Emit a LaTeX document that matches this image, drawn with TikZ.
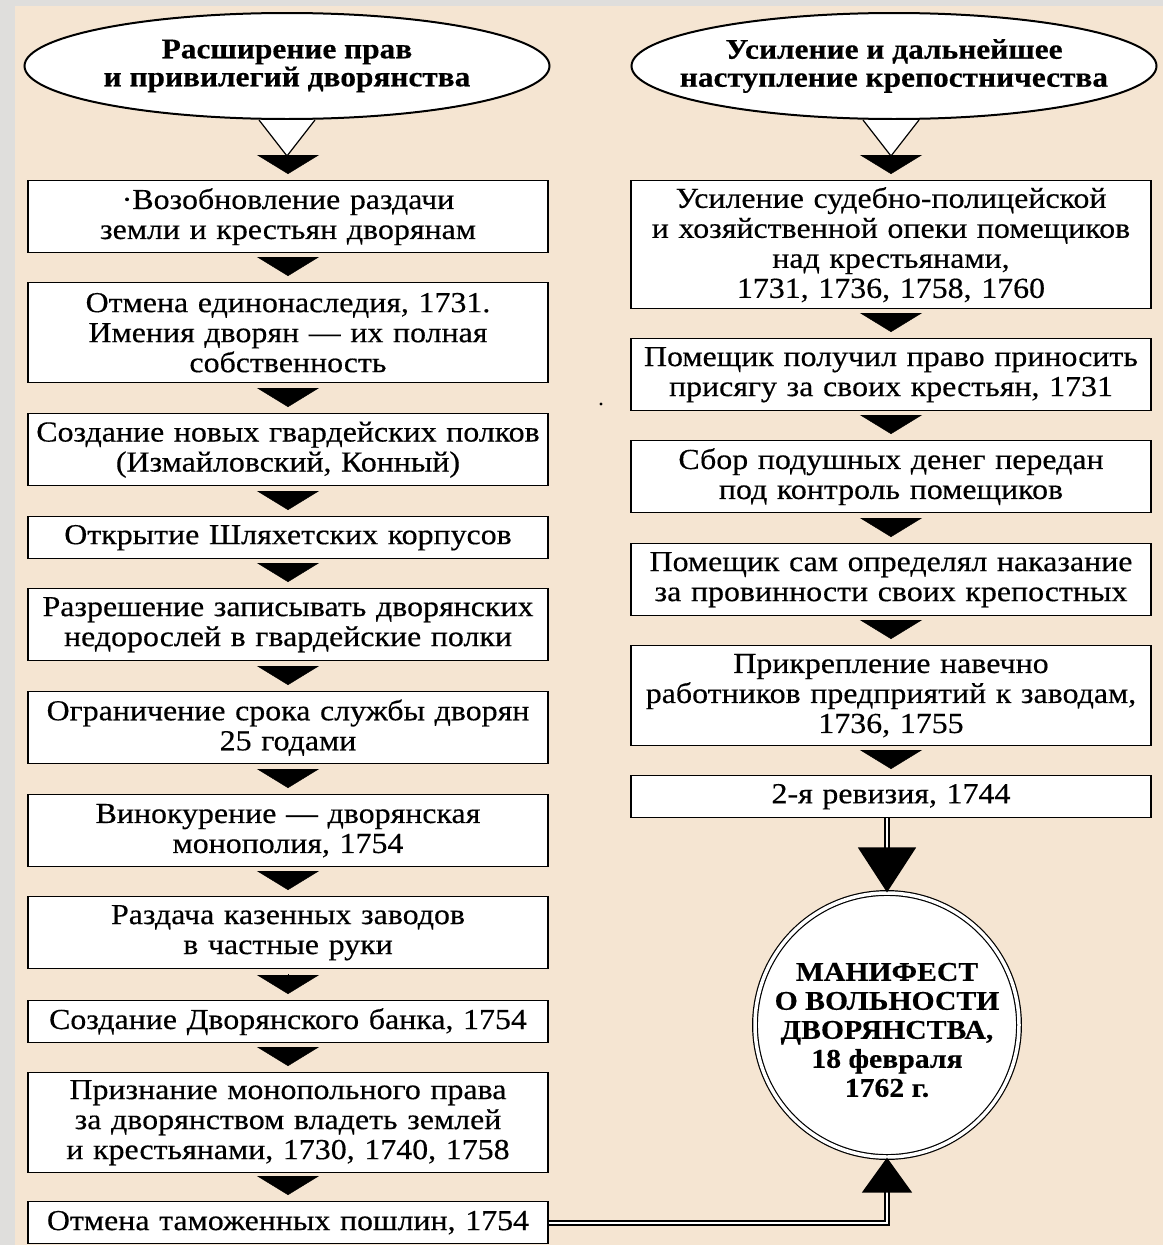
\documentclass[tikz,border=0pt]{standalone}
\usepackage{fontspec}
\setmainfont{Liberation Serif}[FakeStretch=1.1,FakeBold=0.4]
\usetikzlibrary{shapes.geometric,arrows.meta}
\definecolor{paper}{HTML}{F5E5D2}
\definecolor{rim}{HTML}{DFDEDC}
\tikzset{
  box/.style={draw, fill=white, line width=1.4pt, text width=510pt, inner xsep=5pt, inner ysep=0pt, align=center, minimum height=#1pt, anchor=north, font=\fontsize{29}{30}\selectfont},
  headoval/.style={ellipse, draw, fill=white, line width=2pt, minimum width=525pt, minimum height=106pt, inner sep=0pt},
  headtext/.style={align=center, font=\fontsize{28.5}{28}\selectfont\bfseries},
  flowtip/.style={-{Triangle[length=19pt,width=62pt]}, line width=0.4pt, shorten <=5pt, shorten >=6pt},
  dbl/.style={double=white, double distance=2.2pt, line width=1.8pt},
}

\begin{document}
\begin{tikzpicture}[x=1pt,y=1pt]
	\fill[rim] (0,0) rectangle (1163,-1245); \fill[paper] (15,-6) rectangle (1163,-1245); % page
	\useasboundingbox (0,0) rectangle (1163,-1245);
	\node[headoval] (lh) at (287,-66) {}; \node[headtext] (lht) at (lh) {Расширение прав\\и привилегий дворянства};
	\node[headoval] (rh) at (894,-66) {}; \node[headtext] (rht) at (rh) {Усиление и дальнейшее\\наступление крепостничества};
	% left column
	\node[box=72] (b1) at (288,-180) {·Возобновление раздачи\\земли и крестьян дворянам};
	\node[box=100] (b2) at (288,-282) {Отмена единонаследия, 1731.\\Имения дворян — их полная\\собственность};
	\node[box=72] (b3) at (288,-413) {Создание новых гвардейских полков\\(Измайловский, Конный)};
	\node[box=42] (b4) at (288,-516) {Открытие Шляхетских корпусов};
	\node[box=72] (b5) at (288,-588) {Разрешение записывать дворянских\\недорослей в гвардейские полки};
	\node[box=72] (b6) at (288,-691) {Ограничение срока службы дворян\\25 годами};
	\node[box=72] (b7) at (288,-794) {Винокурение — дворянская\\монополия, 1754};
	\node[box=72] (b8) at (288,-896) {Раздача казенных заводов\\в частные руки};
	\node[box=42] (b9) at (288,-1000) {Создание Дворянского банка, 1754};
	\node[box=100] (b10) at (288,-1072) {Признание монопольного права\\за дворянством владеть землей\\и крестьянами, 1730, 1740, 1758};
	\node[box=42] (b11) at (288,-1201) {Отмена таможенных пошлин, 1754};
	% right column
	\node[box=128] (r1) at (891,-180) {Усиление судебно-полицейской\\и хозяйственной опеки помещиков\\над крестьянами,\\1731, 1736, 1758, 1760};
	\node[box=72] (r2) at (891,-338) {Помещик получил право приносить\\присягу за своих крестьян, 1731};
	\node[box=72] (r3) at (891,-440) {Сбор подушных денег передан\\под контроль помещиков};
	\node[box=72] (r4) at (891,-543) {Помещик сам определял наказание\\за провинности своих крепостных};
	\node[box=100] (r5) at (891,-645) {Прикрепление навечно\\работников предприятий к заводам,\\1736, 1755};
	\node[box=42] (r6) at (891,-775) {2-я ревизия, 1744};
	\node[circle, draw, double=white, double distance=3.5pt, line width=1.2pt, fill=white, minimum size=264pt, inner sep=0pt] (manif) at (887,-1025) {};
	\node[align=center, font=\fontsize{27}{29}\selectfont\bfseries] (maniftext) at ([yshift=-5pt]manif) {МАНИФЕСТ\\О ВОЛЬНОСТИ\\ДВОРЯНСТВА,\\18 февраля\\1762 г.};
	% open triangles under the heads
	\draw[fill=white, line width=1.2pt] ([xshift=-28pt]lh.south) -- ([yshift=-36pt]lh.south) -- ([xshift=28pt]lh.south);
	\draw[fill=white, line width=1.2pt] ([xshift=-28pt]rh.south -| r1.north) -- ([yshift=-36pt]rh.south -| r1.north) -- ([xshift=28pt]rh.south -| r1.north);
	\draw[flowtip, shorten <=36pt] (lh.south -| b1.north) -- (b1); \draw[flowtip, shorten <=36pt] (rh.south -| r1.north) -- (r1);
	\draw[flowtip] (b1) -- (b2); \draw[flowtip] (b2) -- (b3); \draw[flowtip] (b3) -- (b4); \draw[flowtip] (b4) -- (b5); \draw[flowtip] (b5) -- (b6); \draw[flowtip] (b6) -- (b7); \draw[flowtip] (b7) -- (b8); \draw[flowtip] (b8) -- (b9); \draw[flowtip] (b9) -- (b10); \draw[flowtip] (b10) -- (b11);
	\draw[flowtip] (r1) -- (r2); \draw[flowtip] (r2) -- (r3); \draw[flowtip] (r3) -- (r4); \draw[flowtip] (r4) -- (r5); \draw[flowtip] (r5) -- (r6);
	\draw[dbl, -{Triangle[length=45pt,width=58pt]}] (r6.south -| manif.north) -- (manif.north); % into the manifesto
	\draw[dbl, -{Triangle[length=35pt,width=50pt]}] (b11.east) -| (manif.south);
	\fill (601,-404) circle (1.6pt); % stray dot
\end{tikzpicture}
\end{document}
